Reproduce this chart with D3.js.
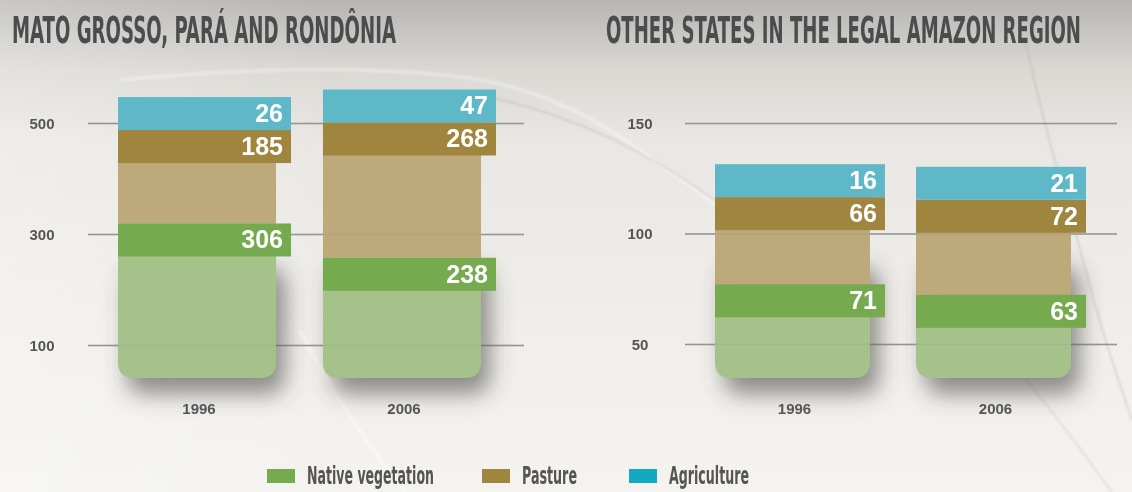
<!DOCTYPE html>
<html>
<head>
<meta charset="utf-8">
<script src="https://cdn.jsdelivr.net/npm/d3@7"></script>
<style>
  html, body { margin: 0; padding: 0; background: #efede9; }
  svg { display: block; }
</style>
</head>
<body>
<div id="chart"></div>
<script>
const years = ["1996", "2006"];
const titles = ["MATO GROSSO, PARÁ AND RONDÔNIA", "OTHER STATES IN THE LEGAL AMAZON REGION"];

const nativeMGPR = [306, 238];
const pastureMGPR = [185, 268];
const agriMGPR = [26, 47];

const nativeOther = [71, 63];
const pastureOther = [66, 72];
const agriOther = [16, 21];

const ticksMGPR = [100, 300, 500];
const ticksOther = [50, 100, 150];

const legendLabels = ["Native vegetation", "Pasture", "Agriculture"];

const w = 1132, h = 492;
const bottom = 378;
const tabH = 33;

const colors = {
  agri: "#5fb8c8",
  pasture: "#a0853f",
  pastureLight: "#bda97a",
  native: "#75aa4f",
  nativeLight: "#a4c28a"
};
const legendColors = ["#75aa4e", "#a0853f", "#13aabf"];
const narrow = "'Liberation Sans Narrow', 'DejaVu Sans Condensed', sans-serif";

const svg = d3.select("#chart").append("svg")
  .attr("width", w)
  .attr("height", h);

const defs = svg.append("defs");
const bg = defs.append("linearGradient")
  .attr("id", "bg").attr("x1", 0).attr("y1", 0).attr("x2", 0).attr("y2", 1);
[[0, "#b6b5b1"], [0.07, "#c9c7c3"], [0.14, "#dad8d3"], [0.28, "#e9e7e3"], [0.6, "#efede9"], [1, "#f4f3f0"]]
  .forEach(([o, c]) => bg.append("stop").attr("offset", o).attr("stop-color", c));

const side = defs.append("linearGradient")
  .attr("id", "side").attr("x1", 0).attr("y1", 0).attr("x2", 1).attr("y2", 0);
side.append("stop").attr("offset", 0).attr("stop-color", "#fff").attr("stop-opacity", 0.25);
side.append("stop").attr("offset", 0.3).attr("stop-color", "#fff").attr("stop-opacity", 0);

defs.append("filter").attr("id", "blur")
  .attr("x", "-50%").attr("y", "-50%").attr("width", "200%").attr("height", "200%")
  .append("feGaussianBlur").attr("stdDeviation", 11);

defs.append("filter").attr("id", "soft")
  .append("feGaussianBlur").attr("stdDeviation", 1.2);

svg.append("rect").attr("width", w).attr("height", h).attr("fill", "url(#bg)");
svg.append("rect").attr("width", w).attr("height", h).attr("fill", "url(#side)");

// faint streaks of the background photo
const streaks = [
  ["M 120,80 Q 330,60 470,78 Q 560,92 640,150 Q 760,240 880,300", "#ffffff", 4, 0.3],
  ["M 480,95 Q 600,120 700,190 Q 800,260 860,330", "#a9a7a2", 2, 0.3],
  ["M 1025,40 Q 1050,150 1075,230 Q 1100,330 1132,420", "#a9a7a2", 1.5, 0.4],
  ["M 300,330 Q 340,410 405,492", "#ffffff", 4, 0.4],
  ["M 1010,360 Q 1060,420 1112,492", "#b3b1ac", 1.5, 0.35]
];
svg.append("g").attr("filter", "url(#soft)")
  .selectAll("path").data(streaks).join("path")
  .attr("d", d => d[0])
  .attr("fill", "none")
  .attr("stroke", d => d[1])
  .attr("stroke-width", d => d[2])
  .attr("opacity", d => d[3]);

const panels = [
  {
    title: titles[0], titleX: 12, titleLen: 384,
    native: nativeMGPR, pasture: pastureMGPR, agri: agriMGPR, ticks: ticksMGPR,
    axisY: d3.scaleLinear().domain([100, 500]).range([345, 123]),
    barY: d3.scaleLinear().domain([0, 600]).range([bottom, bottom - 0.505 * 600]),
    x: d3.scaleBand().domain(years).range([118, 481]).paddingInner(0.229),
    grid: [88, 524], labelX: 42
  },
  {
    title: titles[1], titleX: 606, titleLen: 475,
    native: nativeOther, pasture: pastureOther, agri: agriOther, ticks: ticksOther,
    axisY: d3.scaleLinear().domain([50, 150]).range([344, 123]),
    barY: d3.scaleLinear().domain([0, 150]).range([bottom, bottom - 1.32 * 150]),
    x: d3.scaleBand().domain(years).range([715, 1071]).paddingInner(0.229),
    grid: [685, 1117], labelX: 640
  }
];

const roundedBottom = (x, y0, y1, bw, r) =>
  `M${x},${y0} H${x + bw} V${y1 - r} Q${x + bw},${y1} ${x + bw - r},${y1} H${x + r} Q${x},${y1} ${x},${y1 - r} Z`;

const titleScale = 1.38;

panels.forEach((p) => {
  const g = svg.append("g");

  // condensed headline: narrow face stretched vertically
  g.append("text")
    .attr("transform", `scale(1,${titleScale})`)
    .attr("x", p.titleX)
    .attr("y", 43 / titleScale)
    .attr("textLength", p.titleLen)
    .attr("lengthAdjust", "spacingAndGlyphs")
    .style("font-family", narrow)
    .style("font-weight", "bold")
    .style("font-size", "27px")
    .style("fill", "#4b4c4e")
    .text(p.title);

  const axis = d3.axisLeft(p.axisY)
    .tickValues(p.ticks)
    .tickSize(-(p.grid[1] - p.grid[0]))
    .tickPadding(0);

  const drawGrid = (opacity) => {
    const a = g.append("g")
      .attr("transform", `translate(${p.grid[0]},0)`)
      .call(axis);
    a.select(".domain").remove();
    a.selectAll(".tick line")
      .attr("stroke", "#959595")
      .attr("stroke-width", 1.5)
      .attr("opacity", opacity);
    if (opacity < 1) {
      a.selectAll(".tick text").remove();
      return;
    }
    a.selectAll(".tick text")
      .attr("x", p.labelX - p.grid[0])
      .attr("text-anchor", "middle")
      .attr("dy", "0.34em")
      .style("font-family", "'Liberation Sans', Arial, sans-serif")
      .style("font-weight", "bold")
      .style("font-size", "15px")
      .style("fill", "#555");
  };
  drawGrid(1);

  const bars = years.map((yr, i) => ({
    year: yr,
    native: p.native[i],
    pasture: p.pasture[i],
    agri: p.agri[i],
    x: p.x(yr),
    nativeTop: p.barY(p.native[i]),
    pastureTop: p.barY(p.native[i] + p.pasture[i])
  }));
  const bw = p.x.bandwidth();
  const tabW = bw + 15;

  // shadows
  g.append("g").attr("filter", "url(#blur)")
    .selectAll("rect").data(bars).join("rect")
    .attr("x", d => d.x + 9)
    .attr("y", bottom - 110)
    .attr("width", bw)
    .attr("height", 126)
    .attr("rx", 16)
    .attr("fill", "#4a4845")
    .attr("opacity", 0.6);

  g.append("g").selectAll("path").data(bars).join("path")
    .attr("d", d => roundedBottom(d.x, d.nativeTop, bottom, bw, 16))
    .attr("fill", colors.nativeLight);

  g.append("g").selectAll("rect").data(bars).join("rect")
    .attr("x", d => d.x)
    .attr("y", d => d.pastureTop)
    .attr("width", bw)
    .attr("height", d => d.nativeTop - d.pastureTop)
    .attr("fill", colors.pastureLight);

  drawGrid(0.22);

  const tabs = [];
  bars.forEach((d) => {
    tabs.push({ x: d.x, y: d.nativeTop, fill: colors.native, label: d.native });
    tabs.push({ x: d.x, y: d.pastureTop, fill: colors.pasture, label: d.pasture });
    tabs.push({ x: d.x, y: d.pastureTop - tabH, fill: colors.agri, label: d.agri });
  });

  const tab = g.append("g").selectAll("g").data(tabs).join("g");
  tab.append("rect")
    .attr("x", d => d.x)
    .attr("y", d => d.y)
    .attr("width", tabW)
    .attr("height", tabH)
    .attr("fill", d => d.fill);
  tab.append("text")
    .attr("x", d => d.x + tabW - 8)
    .attr("y", d => d.y + 25)
    .attr("text-anchor", "end")
    .style("font-family", "'Liberation Sans', Arial, sans-serif")
    .style("font-weight", "bold")
    .style("font-size", "25px")
    .style("fill", "#fff")
    .text(d => d.label);

  g.append("g").selectAll("text").data(years).join("text")
    .attr("x", d => p.x(d) + bw / 2 + 2)
    .attr("y", 414)
    .attr("text-anchor", "middle")
    .style("font-family", "'Liberation Sans', Arial, sans-serif")
    .style("font-weight", "bold")
    .style("font-size", "15px")
    .style("fill", "#555")
    .text(d => d);
});

// legend
const legendX = [267, 482, 629];
const legendLen = [127, 55, 80];
const legend = svg.append("g").selectAll("g").data(legendLabels).join("g")
  .attr("transform", (d, i) => `translate(${legendX[i]},0)`);
legend.append("rect")
  .attr("x", 0).attr("y", 469)
  .attr("width", 28).attr("height", 14)
  .attr("fill", (d, i) => legendColors[i]);
legend.append("text")
  .attr("transform", "scale(1,1.22)")
  .attr("x", 40)
  .attr("y", 484 / 1.22)
  .attr("textLength", (d, i) => legendLen[i])
  .attr("lengthAdjust", "spacingAndGlyphs")
  .style("font-family", narrow)
  .style("font-weight", "bold")
  .style("font-size", "20px")
  .style("fill", "#555")
  .text(d => d);
</script>
</body>
</html>
